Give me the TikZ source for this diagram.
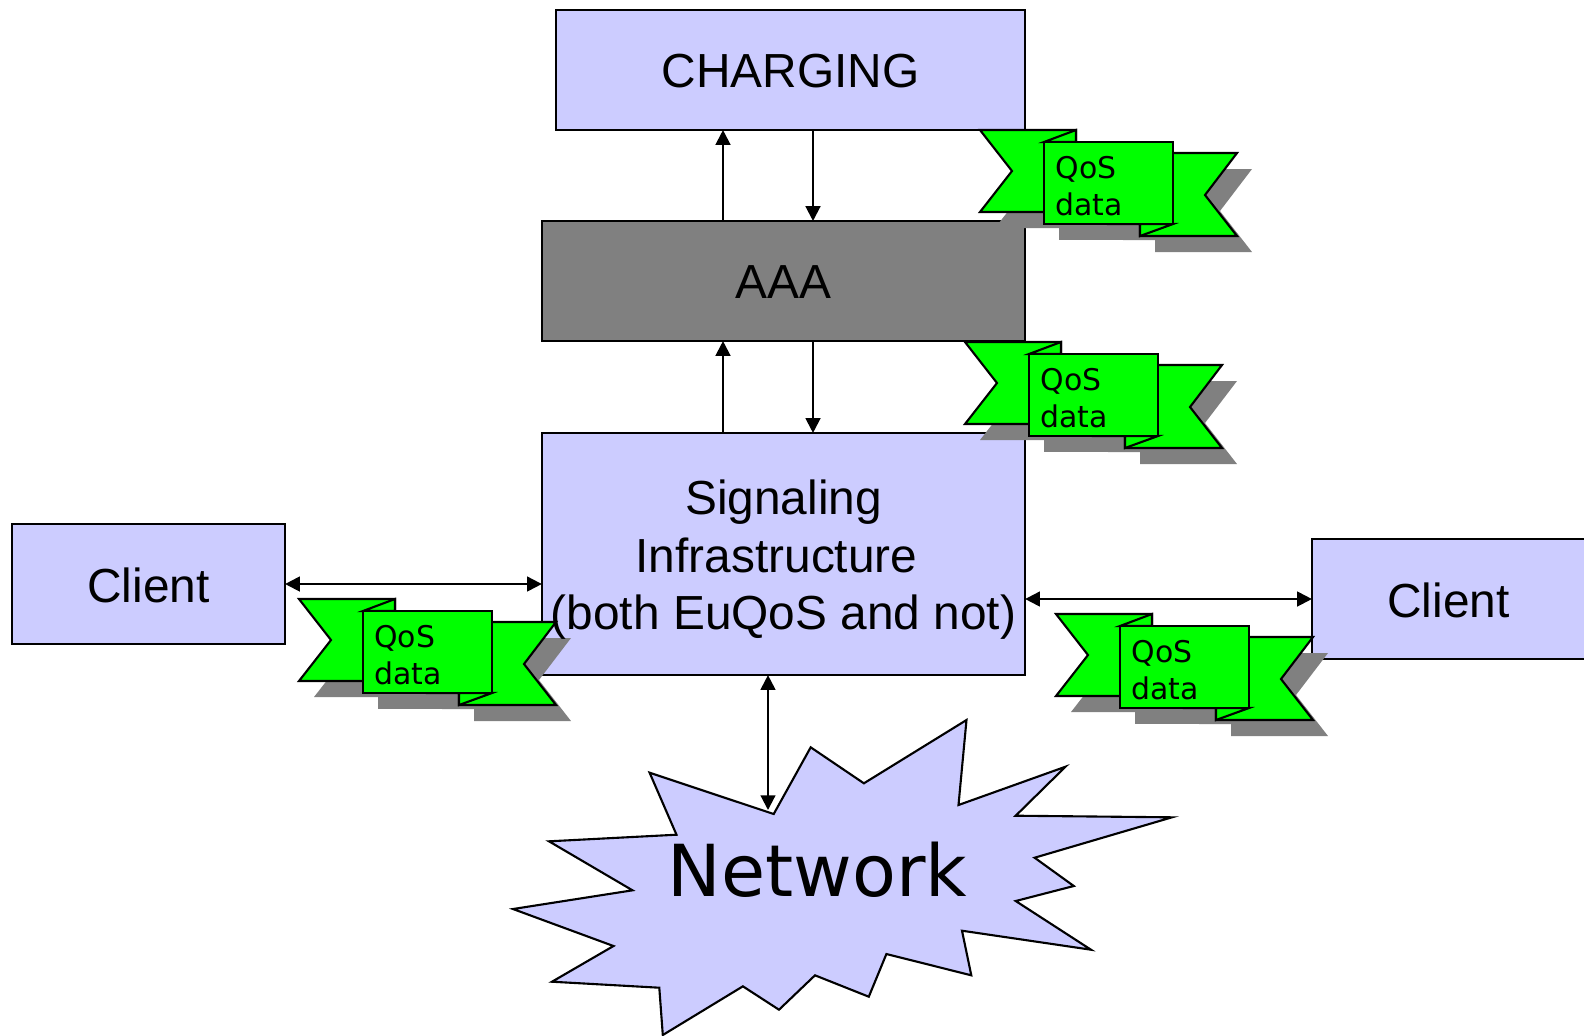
\documentclass[tikz,border=0pt]{standalone}
\usepackage{fontspec}
\setmainfont{Liberation Sans}
\newfontfamily\lucida{DejaVu Sans}
\usetikzlibrary{arrows.meta}
\definecolor{lavender}{RGB}{204,204,255}
\definecolor{flaggreen}{RGB}{0,255,0}
\definecolor{shadowgray}{RGB}{128,128,128}
\tikzset{
  blockbox/.style = {draw, fill=lavender, line width=0.6pt, inner sep=0pt, outer sep=0pt},
  blocktext/.style = {align=center, font=\fontsize{13.6}{16.3}\selectfont, inner sep=0pt, yshift=-0.35pt},
  link/.style = {line width=0.6pt, -{Triangle[length=4.2pt,width=4.2pt]}},
  bothlink/.style = {line width=0.6pt, {Triangle[length=4.2pt,width=4.2pt]}-{Triangle[length=4.2pt,width=4.2pt]}},
  flagline/.style = {draw, fill=flaggreen, line width=0.6pt},
  pics/qosflag/.style = {code = {
    \begin{scope}[shift={(15,16)}, shadowgray]
    \fill (0,0) -- (96,0) -- (96,82) -- (0,82) -- (32,41) -- cycle;
    \fill (128,23) -- (257,23) -- (225,65) -- (257,106) -- (160,106) -- (160,94) -- (128,94) -- cycle;
    \fill (64,12) rectangle (193,94);
    \end{scope}
    \path[flagline] (0,0) -- (96,0) -- (96,82) -- (0,82) -- (32,41) -- cycle;
    \path[flagline] (128,23) -- (257,23) -- (225,65) -- (257,106) -- (160,106) -- (160,94) -- (128,94) -- cycle;
    \path[flagline] (64,12) -- (96,0) -- (96,12) -- cycle;
    \path[flagline] (193,94) -- (160,106) -- (160,94) -- cycle;
    \path[flagline] (64,12) rectangle (193,94);
    \node[text width=1.06cm, inner sep=0pt, align=left,
      font=\lucida\fontsize{8.5}{10.5}\selectfont] at (128.5,56) {QoS\\data};
  }}
}
\begin{document}
\begin{tikzpicture}[x=0.01cm,y=-0.01cm]
\useasboundingbox (0,0) rectangle (1584,1035);
\clip (0,0) rectangle (1584,1035);
\node[blockbox, minimum width=4.69cm, minimum height=1.2cm] (charging) at (790.5,70) {};
\node[blockbox, fill=shadowgray, minimum width=4.83cm, minimum height=1.2cm] (aaa) at (783.5,281) {};
\node[blockbox, minimum width=4.83cm, minimum height=2.42cm] (signaling) at (783.5,554) {};
\node[blockbox, minimum width=2.73cm, minimum height=1.2cm] (clientl) at (148.5,584) {};
\node[blockbox, minimum width=2.73cm, minimum height=1.2cm] (clientr) at (1448.5,599) {};
\coordinate (upx) at (723,0);
\coordinate (downx) at (813,0);
\coordinate (netnotch) at (768,810);
\draw[link] (aaa.north -| upx) -- (charging.south -| upx);
\draw[link] (charging.south -| downx) -- (aaa.north -| downx);
\draw[link] (signaling.north -| upx) -- (aaa.south -| upx);
\draw[link] (aaa.south -| downx) -- (signaling.north -| downx);
\draw[bothlink] (clientl.east) -- (clientl.east -| signaling.west);
\draw[bothlink] (clientr.west -| signaling.east) -- (clientr.west);
\draw[bothlink] (signaling.south -| netnotch) -- (netnotch);
\draw[fill=lavender, line width=0.6pt] (649.6,772.7) -- (773.7,814) -- (810.7,747.3) -- (863.9,783.3) -- (966.5,720)
-- (958.5,805) -- (1065.5,766.7) -- (1015.7,815.7) -- (1172,817.3) -- (1034.6,857.7) -- (1073.8,886)
-- (1015.7,901) -- (1091,949.7) -- (962,930.7) -- (971.3,975.3) -- (886.4,954) -- (868.8,996.7)
-- (815,975.3) -- (779,1009.7) -- (742.9,986.3) -- (662.8,1035) -- (659.3,987.7) -- (552,981.7)
-- (613.5,946) -- (513,909) -- (632.5,890.3) -- (549,841.3) -- (676.5,834.7) -- cycle;
\pic at (980,130) {qosflag};
\pic at (965,342) {qosflag};
\pic at (299,599) {qosflag};
\pic at (1056,614) {qosflag};
\node[blocktext] (chargingtext) at (charging.center) {CHARGING};
\node[blocktext] (aaatext) at (aaa.center) {AAA};
\node[blocktext, yshift=-1.3pt] (signalingtext) at (signaling.center) {Signaling\\\hbox{Infrastructure\kern4pt}\\(both EuQoS and not)};
\node[blocktext] (clientltext) at (clientl.center) {Client};
\node[blocktext] (clientrtext) at (clientr.center) {Client};
\node[font=\lucida\fontsize{20.4}{24}\selectfont, inner sep=0pt] (network) at (817.5,870) {Network};
\end{tikzpicture}
\end{document}
